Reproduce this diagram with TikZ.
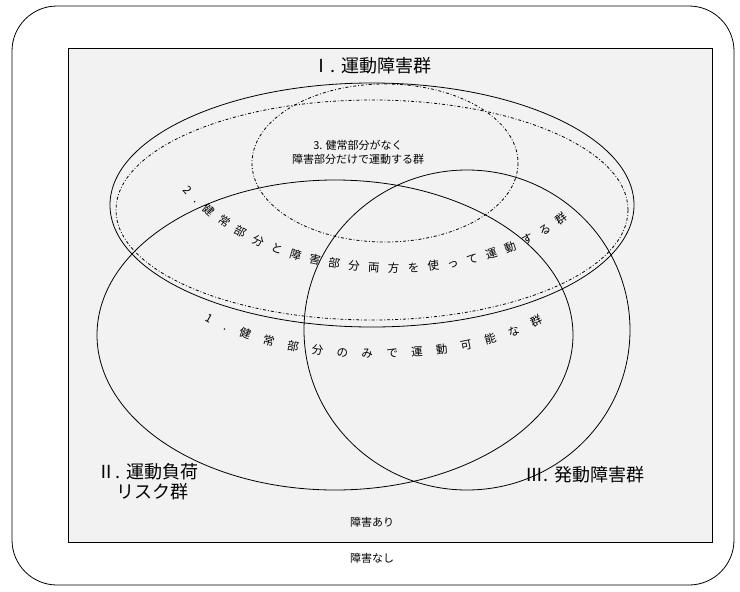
\documentclass[tikz,border=0pt]{standalone}
\usepackage{fontspec}
\setmainfont{Noto Sans CJK JP}
\usetikzlibrary{decorations.text}
\tikzset{
  group/.style={draw,thick},
  subgroup/.style={draw,thick,dash dot},
  bigtext/.style={font=\fontsize{18}{20}\selectfont},
  smalltext/.style={font=\fontsize{11}{14}\selectfont,align=center},
  arctext/.style={decorate,decoration={text along path,text align={fit to path},
      text={|\fontsize{11.5}{12}\selectfont|#1}}},
}
\begin{document}
\begin{tikzpicture}[x=1pt,y=-1pt]
  \useasboundingbox (0,0) rectangle (740,592);
  % frames
  \draw[thick,rounded corners=45pt] (12,6) rectangle (734,585);
  \draw[fill=gray!10] (68,48) rectangle (712,542);
  % groups
  \draw[group] (372,205) ellipse [x radius=262,y radius=122];
  \draw[group] (335,335) ellipse [x radius=238,y radius=155];
  \draw[group] (467,330) ellipse [x radius=163,y radius=160];
  \draw[subgroup] (372,210) ellipse [x radius=256,y radius=110];
  \draw[subgroup] (385,163) ellipse [x radius=133,y radius=79];
  % labels
  \node[bigtext] (g1) at (372,66) {Ⅰ. 運動障害群};
  \node[bigtext,align=center] (g2) at (148,482) {Ⅱ. 運動負荷\\\ \ リスク群};
  \node[bigtext] (g3) at (585,475) {Ⅲ. 発動障害群};
  \node[smalltext] (g13) at (358,152) {3. 健常部分がなく\\障害部分だけで運動する群};
  \node[smalltext] (yes) at (372,522) {障害あり};
  \node[smalltext] (no) at (372,558) {障害なし};
  \path[arctext={2.健常部分と障害部分両方を使って運動する群}]
    (183,190) .. controls (270,295) and (480,295) .. (568,218);
  \path[arctext={1.健常部分のみで運動可能な群}]
    (205,320) .. controls (290,370) and (460,370) .. (543,322);
\end{tikzpicture}
\end{document}
